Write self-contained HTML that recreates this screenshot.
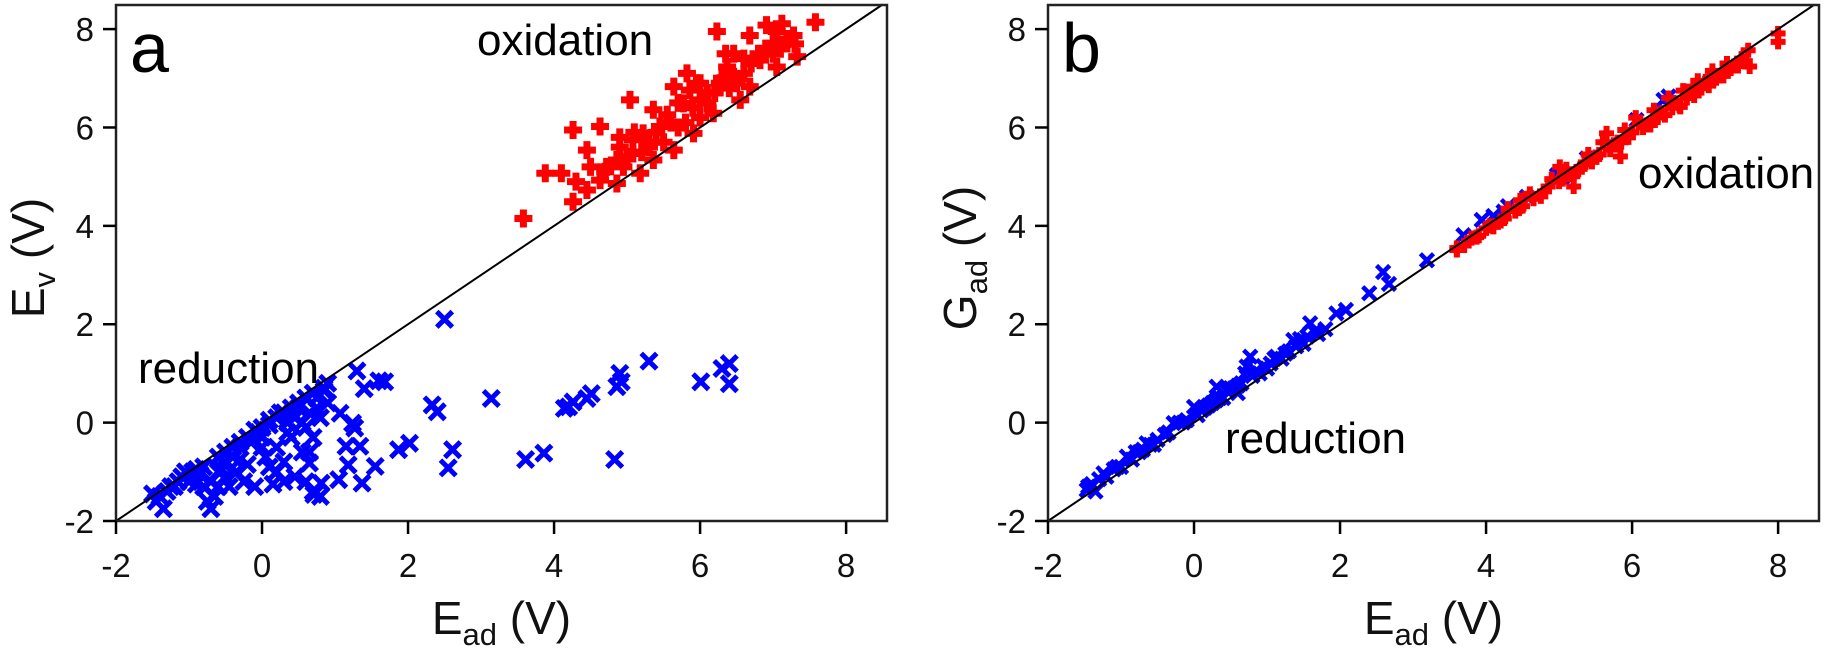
<!DOCTYPE html>
<html><head><meta charset="utf-8"><style>
html,body{margin:0;padding:0;background:#fff;}
svg{display:block;font-family:"Liberation Sans",Arial,sans-serif;}
</style></head><body>
<svg id="fig" width="1825" height="652" viewBox="0 0 1825 652" xmlns="http://www.w3.org/2000/svg">
<g id="pa"></g>
<g id="pb"></g>
</svg>
<script>
const xTicks=[-2,0,2,4,6,8];
const yTicks=[-2,0,2,4,6,8];
const xTickLabels=["-2","0","2","4","6","8"];
const yTickLabels=["-2","0","2","4","6","8"];
const aBlueX=[1.40,1.68,1.07,1.24,1.27,1.15,1.34,1.18,1.05,1.37,1.55,0.81,0.71,0.65,1.87,2.02,2.33,2.40,2.61,2.55,3.14,3.61,3.86,4.14,4.20,4.26,4.45,4.51,4.83,4.86,4.92,6.01,6.40,2.5,5.3,6.3,6.4,4.9,1.3,1.6,0.85,
-1.5,-1.45,-1.4,-1.35,-1.3,-1.2,-1.1,-1.0,-0.95,-0.85,-0.8,-0.75,-0.7,-0.65,-0.7,-0.6,-0.55,-0.5,-0.45,-0.4,-0.35,-0.3,-0.25,-0.2,-0.15,-0.1,0.0,0.05,0.1,0.1,0.15,0.2,0.25,0.3,0.3,0.35,0.4,0.45,0.5,0.55,0.6,0.6,0.65,0.7,0.75,0.8,0.85,0.9,0.9,-0.05,-0.9,0.2,-0.6,0.45,0.7,0.8,
-1.25,-1.15,-1.05,-0.9,-0.8,-0.6,-0.5,-0.4,-0.3,-0.2,-0.1,0.0,0.1,0.2,0.3,0.4,0.5,0.6,0.7,0.55,0.35,0.0,-0.3,-0.55,0.65,0.75];
const aBlueY=[0.69,0.83,0.19,-0.01,-0.11,-0.48,-0.48,-0.86,-1.16,-1.23,-0.89,-1.23,-1.46,-0.82,-0.55,-0.42,0.36,0.22,-0.55,-0.92,0.49,-0.75,-0.62,0.29,0.32,0.42,0.49,0.59,-0.75,0.73,0.83,0.83,0.79,2.1,1.25,1.1,1.2,1.0,1.05,0.85,0.7,
-1.45,-1.6,-1.5,-1.75,-1.4,-1.3,-1.1,-1.2,-1.0,-1.05,-1.3,-1.6,-1.75,-1.5,-1.2,-1.0,-0.8,-1.1,-1.3,-0.7,-1.0,-0.5,-1.2,-0.85,-0.4,-1.3,-0.3,-0.7,-0.9,-0.05,-1.25,-0.5,0.2,-0.8,-1.2,0.0,-0.3,-1.1,0.3,-0.6,-0.1,-1.2,0.2,-0.3,0.5,0.1,0.65,0.4,0.8,-0.2,-1.25,-1.0,-1.3,0.1,-1.4,-1.5,
-1.3,-1.2,-1.0,-0.95,-0.9,-0.7,-0.6,-0.5,-0.4,-0.3,-0.15,-0.1,0.05,0.1,0.2,0.3,0.4,0.5,0.6,0.0,-0.2,-0.5,-0.75,-0.95,-0.6,0.3];
const aRedX=[3.58,3.88,4.10,4.26,4.26,4.63,5.04,4.45,4.63,4.86,5.08,5.36,5.64,5.82,6.00,6.23,6.37,6.46,6.68,6.91,7.12,7.28,7.58,7.33,7.05,6.55,6.68,6.18,5.91,5.64,5.36,5.18,4.86,4.45,6.46,5.86,5.55,5.22,7.19,6.82,6.27,5.77,5.45,5.08,4.72,7.00,7.05,6.0,6.1,5.7,5.3,4.95,6.6,6.9,
4.3,4.5,4.7,4.9,5.0,5.2,5.4,5.5,5.6,5.8,5.9,6.1,6.2,6.4,6.5,6.7,6.8,6.9,7.1,7.2,4.9,5.1,5.3,5.7,6.0,6.3,6.6,7.0,7.3,5.95,6.35];
const aRedY=[4.15,5.07,5.07,5.95,4.49,6.02,6.56,5.54,4.93,5.34,5.75,6.36,6.83,7.10,6.56,7.95,7.23,7.50,7.87,8.08,8.11,7.87,8.14,7.44,7.23,6.56,6.83,6.29,5.88,5.54,5.34,5.07,4.86,4.73,7.03,6.76,6.26,5.88,7.71,7.37,6.90,6.49,6.02,5.47,5.20,7.71,7.95,6.2,6.7,6.0,5.7,5.2,7.1,7.6,
4.9,5.2,5.1,5.6,5.4,5.5,5.9,5.7,6.1,6.1,6.4,6.5,6.7,6.8,6.9,7.3,7.5,7.6,7.6,7.8,5.8,5.9,5.6,6.5,6.9,7.0,7.4,7.5,7.7,6.9,7.5];
const bBlueX=[3.19,2.59,2.67,2.40,3.69,3.94,4.24,4.56,4.97,5.38,6.06,6.43,6.50,-1.47,-1.24,-0.92,-0.65,-0.28,0.00,0.31,0.72,0.77,1.13,1.36,1.59,1.95,2.08,
-1.4,-1.35,-1.3,-1.1,-1.0,-0.8,-0.7,-0.5,-0.4,-0.2,-0.1,0.1,0.2,0.4,0.5,0.6,0.9,1.0,1.2,1.3,1.5,1.7,1.8,0.3,-0.6,4.3,5.0,
-1.45,-1.2,-1.05,-0.85,-0.75,-0.55,-0.35,-0.15,0.05,0.15,0.25,0.35,0.45,0.55,0.65,0.8,0.85,0.95,1.05,1.1,1.25,1.4,1.45,1.55,1.65,0.7,0.6,5.05,4.1];
const bBlueY=[3.30,3.06,2.82,2.63,3.81,4.12,4.29,4.59,5.03,5.37,6.15,6.56,6.63,-1.37,-1.03,-0.69,-0.42,-0.01,0.32,0.73,1.14,1.34,1.34,1.68,2.02,2.22,2.29,
-1.25,-1.4,-1.15,-0.95,-0.9,-0.6,-0.55,-0.35,-0.25,0.0,0.05,0.25,0.35,0.5,0.7,0.75,1.0,1.1,1.3,1.45,1.6,1.8,1.9,0.45,-0.45,4.4,5.05,
-1.3,-1.1,-0.9,-0.75,-0.6,-0.45,-0.2,0.0,0.15,0.3,0.4,0.5,0.65,0.7,0.8,0.95,1.05,1.15,1.2,1.3,1.4,1.55,1.7,1.75,1.85,1.0,0.6,5.0,4.2];
const bRedX=[8.0,8.0,7.59,7.61,7.30,6.84,6.66,5.65,5.84,5.20,5.01,4.47,4.10,3.87,3.60,6.29,7.07,
3.6,3.8,4.0,4.2,4.3,4.5,4.6,4.8,4.9,5.0,5.1,5.3,5.4,5.5,5.6,5.8,5.9,6.0,6.1,6.2,6.3,6.4,6.5,6.6,6.7,6.8,6.9,7.0,7.1,7.2,7.3,7.4,7.5,4.4,5.2,6.05,6.9,
3.7,3.9,4.05,4.25,4.45,4.65,4.75,4.85,5.05,5.15,5.25,5.35,5.45,5.55,5.7,5.75,5.85,5.95,6.15,6.25,6.35,6.45,6.55,6.65,6.75,6.85,6.95,7.05,7.15,7.25,7.35,7.45,7.55];
const bRedY=[7.91,7.74,7.57,7.24,7.17,6.83,6.42,5.88,5.41,4.80,5.20,4.52,3.98,3.77,3.51,6.15,7.03,
3.55,3.75,3.95,4.1,4.35,4.4,4.65,4.7,4.95,4.9,5.15,5.2,5.45,5.4,5.7,5.7,5.95,5.9,6.1,6.05,6.35,6.3,6.6,6.5,6.75,6.7,6.95,6.9,7.15,7.05,7.3,7.25,7.4,4.3,5.05,6.2,6.8,
3.6,3.8,4.0,4.15,4.35,4.55,4.6,4.8,4.95,5.05,5.1,5.25,5.3,5.45,5.55,5.65,5.7,5.8,6.0,6.05,6.2,6.25,6.4,6.45,6.6,6.65,6.8,6.85,7.0,7.05,7.2,7.25,7.35];

const NS="http://www.w3.org/2000/svg";
function mk(p,tag,attrs){const e=document.createElementNS(NS,tag);for(const k in attrs)e.setAttribute(k,attrs[k]);p.appendChild(e);return e;}
const XMIN=-2,XMAX=8.56,YMIN=-2,YMAX=8.49,W=771,H=516,TOP=5;

function panel(g,left,cfg){
  const sx=v=>left+(v-XMIN)/(XMAX-XMIN)*W;
  const sy=v=>TOP+H-(v-YMIN)/(YMAX-YMIN)*H;
  const bg=mk(g,'g',{stroke:'#0000ff','stroke-width':cfg.bw,'stroke-linecap':'square'});
  
  
  cfg.bx.forEach((v,i)=>{const x=sx(v),y=sy(cfg.by[i]),s=cfg.bs;
    const p=mk(bg,'path',{d:`M${x-s},${y-s}L${x+s},${y+s}M${x-s},${y+s}L${x+s},${y-s}`});
    
    });
  const rg=mk(g,'g',{stroke:'#ff0000','stroke-width':cfg.rw});
  
  
  cfg.rx.forEach((v,i)=>{const x=sx(v),y=sy(cfg.ry[i]),s=cfg.rs;
    const p=mk(rg,'path',{d:`M${x-s},${y}L${x+s},${y}M${x},${y-s}L${x},${y+s}`});
    
    });
  const diag=mk(g,'line',{x1:sx(-2),y1:sy(-2),x2:sx(8.5),y2:sy(8.5),stroke:'#000','stroke-width':2});
  
  
  const fr=mk(g,'rect',{x:left,y:TOP,width:W,height:H,fill:'none',stroke:'#222','stroke-width':2.5});
  
  
  xTicks.forEach((v,i)=>{const x=sx(v);
    const t=mk(g,'line',{x1:x,y1:TOP+H,x2:x,y2:TOP+H+13,stroke:'#000','stroke-width':2.5});
    
    
    const l=mk(g,'text',{x:x,y:577,'text-anchor':'middle','font-size':33,fill:'#111'});
    l.textContent=xTickLabels[i];
    
    });
  yTicks.forEach((v,i)=>{const y=sy(v);
    const t=mk(g,'line',{x1:left-13,y1:y,x2:left,y2:y,stroke:'#000','stroke-width':2.5});
    
    
    const l=mk(g,'text',{x:left-22,y:y+12,'text-anchor':'end','font-size':33,fill:'#111'});
    l.textContent=yTickLabels[i];
    
    });
  const xt=mk(g,'text',{x:left+W/2,y:634,'text-anchor':'middle','font-size':46,fill:'#111'});
  xt.innerHTML='E<tspan font-size="31" dy="11">ad</tspan><tspan dy="-11"> (V)</tspan>';
  
  
  const yt=mk(g,'text',{x:0,y:0,'text-anchor':'middle','font-size':46,fill:'#111',transform:`translate(${left-72},258) rotate(-90)`});
  yt.innerHTML=cfg.ylab;
  
  
  const pl=mk(g,'text',{x:left+14,y:72,'font-size':70,fill:'#000'});
  pl.textContent=cfg.letter;
  
  
  const ox=mk(g,'text',{x:cfg.ox[0],y:cfg.ox[1],'font-size':44,fill:'#000'});
  ox.textContent='oxidation';
  
  
  const rd=mk(g,'text',{x:cfg.rd[0],y:cfg.rd[1],'font-size':44,fill:'#000'});
  rd.textContent='reduction';
  
  
}
panel(document.getElementById('pa'),116,{bx:aBlueX,by:aBlueY,rx:aRedX,ry:aRedY,bw:5,bs:6,rw:7,rs:9,
  ylab:'E<tspan font-size="31" dy="11">v</tspan><tspan dy="-11"> (V)</tspan>',letter:'a',ox:[477,55],rd:[138,383]});
panel(document.getElementById('pb'),1048,{bx:bBlueX,by:bBlueY,rx:bRedX,ry:bRedY,bw:4.5,bs:5,rw:6,rs:7.5,
  ylab:'G<tspan font-size="31" dy="11">ad</tspan><tspan dy="-11"> (V)</tspan>',letter:'b',ox:[1638,188],rd:[1225,453]});
</script>
</body></html>
